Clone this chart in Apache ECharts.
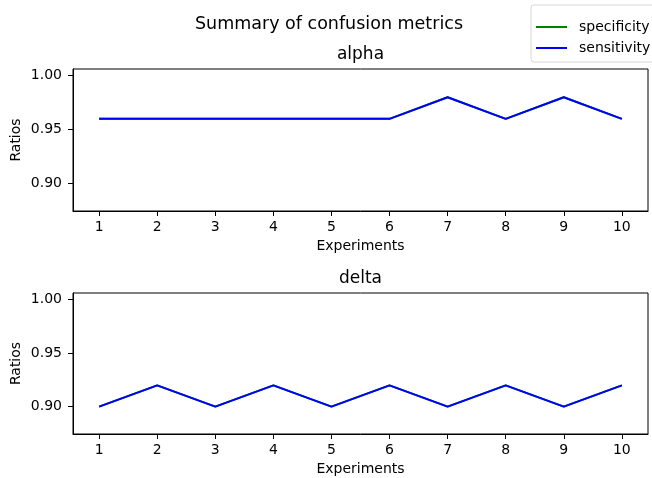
<!DOCTYPE html>
<html>
<head>
<meta charset="utf-8">
<script src="https://cdn.jsdelivr.net/npm/echarts@6/dist/echarts.min.js"></script>
<style>
  html, body { margin: 0; padding: 0; background: #fff; }
  #chart { width: 652px; height: 478px; }
</style>
</head>
<body>
<div id="chart"></div>
<script>
// Experiment numbers shown on the x axis
const experiments = [1, 2, 3, 4, 5, 6, 7, 8, 9, 10];

// Ratios per experiment for the "alpha" panel
const alphaSpecificity = [0.96, 0.96, 0.96, 0.96, 0.96, 0.96, 0.98, 0.96, 0.98, 0.96];
const alphaSensitivity = [0.96, 0.96, 0.96, 0.96, 0.96, 0.96, 0.98, 0.96, 0.98, 0.96];

// Ratios per experiment for the "delta" panel
const deltaSpecificity = [0.90, 0.92, 0.90, 0.92, 0.90, 0.92, 0.90, 0.92, 0.90, 0.92];
const deltaSensitivity = [0.90, 0.92, 0.90, 0.92, 0.90, 0.92, 0.90, 0.92, 0.90, 0.92];

// Tick positions on the y axes
const ratioTicks = [0.90, 0.95, 1.00];

const FONT = 'DejaVu Sans';
const pairs = (ys) => experiments.map((x, i) => [x, ys[i]]);

function xAxisFor(gridIndex) {
  return {
    type: 'value', gridIndex,
    min: 0.55, max: 10.45,
    name: 'Experiments', nameLocation: 'middle', nameGap: 28,
    nameTextStyle: { fontFamily: FONT, fontSize: 14, color: '#000' },
    axisLine: { show: true, onZero: false, lineStyle: { color: '#000', width: 1 } },
    axisTick: { show: true, length: 5, customValues: experiments, lineStyle: { color: '#000' } },
    axisLabel: { customValues: experiments, margin: 9, fontFamily: FONT, fontSize: 14, color: '#000' },
    splitLine: { show: false }
  };
}

function yAxisFor(gridIndex) {
  return {
    type: 'value', gridIndex,
    min: 0.8745, max: 1.0062,
    name: 'Ratios', nameLocation: 'middle', nameGap: 50, nameMoveOverlap: false,
    nameTextStyle: { fontFamily: FONT, fontSize: 14, color: '#000' },
    axisLine: { show: true, onZero: false, lineStyle: { color: '#000', width: 1 } },
    axisTick: { show: true, length: 5, customValues: ratioTicks, lineStyle: { color: '#000' } },
    axisLabel: {
      customValues: ratioTicks, margin: 11, fontFamily: FONT, fontSize: 14, color: '#000',
      formatter: (v) => Number(v).toFixed(2)
    },
    splitLine: { show: false }
  };
}

function lineSeries(name, color, data, idx, z) {
  return {
    name, type: 'line', xAxisIndex: idx, yAxisIndex: idx,
    data: pairs(data), showSymbol: false, symbol: 'none', z,
    lineStyle: { color, width: 1.9 }, itemStyle: { color },
    animation: false
  };
}

const gridBase = {
  left: 73, width: 575, show: true, borderColor: '#000', borderWidth: 1,
  backgroundColor: 'transparent', containLabel: false, outerBoundsMode: 'none'
};

const chart = echarts.init(document.getElementById('chart'), null, { renderer: 'canvas' });
chart.setOption({
  animation: false,
  backgroundColor: '#fff',
  textStyle: { fontFamily: FONT },
  grid: [
    Object.assign({}, gridBase, { top: 69, height: 142 }),
    Object.assign({}, gridBase, { top: 293, height: 141 })
  ],
  xAxis: [xAxisFor(0), xAxisFor(1)],
  yAxis: [yAxisFor(0), yAxisFor(1)],
  legend: {
    orient: 'vertical', left: 531, top: 5,
    data: ['specificity', 'sensitivity'],
    icon: 'rect', itemWidth: 31, itemHeight: 2, itemGap: 7,
    padding: [15, 8, 7, 5],
    backgroundColor: '#fff', borderColor: '#d6d6d6', borderWidth: 1, borderRadius: 3,
    textStyle: { fontFamily: FONT, fontSize: 14, color: '#000', padding: [0, 0, 0, 7] },
    selectedMode: false
  },
  graphic: [
    { type: 'text', x: 329, y: 24.5, style: { text: 'Summary of confusion metrics', font: '17.5px "DejaVu Sans"', fill: '#000', textAlign: 'center', textVerticalAlign: 'middle' } },
    { type: 'text', x: 360.5, y: 55, style: { text: 'alpha', font: '17px "DejaVu Sans"', fill: '#000', textAlign: 'center', textVerticalAlign: 'middle' } },
    { type: 'text', x: 360.5, y: 278.5, style: { text: 'delta', font: '17px "DejaVu Sans"', fill: '#000', textAlign: 'center', textVerticalAlign: 'middle' } }
  ],
  series: [
    lineSeries('specificity', '#008000', alphaSpecificity, 0, 2),
    lineSeries('sensitivity', '#0000ff', alphaSensitivity, 0, 3),
    lineSeries('specificity', '#008000', deltaSpecificity, 1, 2),
    lineSeries('sensitivity', '#0000ff', deltaSensitivity, 1, 3)
  ]
});
</script>
</body>
</html>
